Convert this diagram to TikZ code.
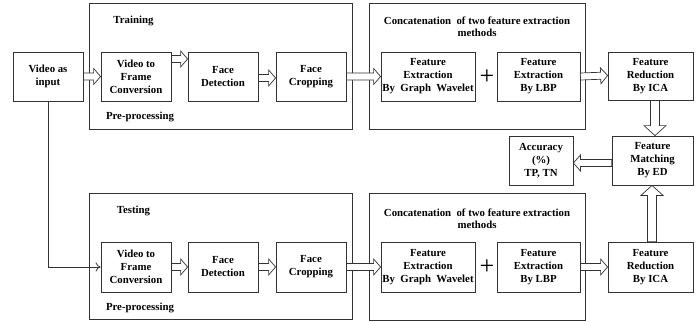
\documentclass[tikz,border=0pt]{standalone}
\usepackage{fontspec}
\setmainfont{Liberation Serif}
\usetikzlibrary{calc,arrows.meta}
\tikzset{
 box/.style={draw=black!80, line width=0.8pt, align=center, font=\bfseries\fontsize{10.8}{13}\selectfont, inner sep=1pt},
 frame/.style={draw=black!80, line width=0.8pt, inner sep=0pt},
 lbl/.style={font=\bfseries\fontsize{10.8}{12.5}\selectfont, align=center, inner sep=0pt},
 blk/.style={draw=black!80, line width=0.7pt, fill=white, line join=miter},
 plus/.style={font=\fontsize{26}{26}\selectfont, inner sep=0pt},
 thinarrow/.style={draw=black!80, line width=0.8pt, -{To[length=5pt,width=9pt]}},
}
\newcommand\blockarrow[5][7pt]{%
 \path #2 coordinate (ba-a) #3 coordinate (ba-b);
 \path ($(ba-b)!#1!(ba-a)$) coordinate (ba-h);
 \draw[blk] ($(ba-a)!#4!90:(ba-b)$) -- ($(ba-h)!#4!90:(ba-b)$) -- ($(ba-h)!#5!90:(ba-b)$) -- (ba-b) -- ($(ba-h)!#5!-90:(ba-b)$) -- ($(ba-h)!#4!-90:(ba-b)$) -- ($(ba-a)!#4!-90:(ba-b)$) -- cycle;
}
\begin{document}
\begin{tikzpicture}[x=1pt,y=-1pt]
\useasboundingbox (0,0) rectangle (700,321);
% frames
\node[frame, minimum width=263pt, minimum height=126pt] (train) at (220.5,66) {};
\node[frame, minimum width=216pt, minimum height=126pt] (cat1) at (477,66) {};
\node[frame, minimum width=263pt, minimum height=126pt] (test) at (220.5,256) {};
\node[frame, minimum width=216pt, minimum height=127pt] (cat2) at (477,256.5) {};
% labels
\node[lbl] (ltrain) at (133.5,21) {Training};
\node[lbl] (lpre1) at (140,117) {Pre-processing};
\node[lbl] (ltest) at (133.5,211) {Testing};
\node[lbl] (lpre2) at (140,308) {Pre-processing};
\node[lbl] (lcat1) at (477,27) {Concatenation \ of two feature extraction\\methods};
\node[lbl] (lcat2) at (477,218.5) {Concatenation \ of two feature extraction\\methods};
% top row
\node[box, minimum width=70pt, minimum height=49pt] (vin) at (48,76.5) {Video as\\input};
\node[box, minimum width=70pt, minimum height=49pt] (vfc1) at (136,76.5) {Video to\\Frame\\Conversion};
\node[box, minimum width=70pt, minimum height=49pt] (fd1) at (223,76.5) {Face\\Detection};
\node[box, minimum width=70pt, minimum height=49pt] (fc1) at (311,76.5) {Face\\Cropping};
\node[box, minimum width=94pt, minimum height=49pt] (gw1) at (428,76.5) {Feature\\Extraction\\By \ Graph \ Wavelet};
\node[plus] (p1) at (487,77) {+};
\node[box, minimum width=83pt, minimum height=49pt] (lbp1) at (538.5,76.5) {Feature\\Extraction\\By LBP};
\node[box, minimum width=85pt, minimum height=48pt] (fr1) at (650.5,76) {Feature\\Reduction\\By ICA};
% middle
\node[box, minimum width=64pt, minimum height=49pt] (acc) at (541,160.5) {Accuracy\\(\%)\\TP, TN};
\node[box, minimum width=81pt, minimum height=49pt] (fm) at (652.5,160.5) {Feature\\Matching\\By ED};
% bottom row
\node[box, minimum width=70pt, minimum height=50pt] (vfc2) at (136,267) {Video to\\Frame\\Conversion};
\node[box, minimum width=70pt, minimum height=50pt] (fd2) at (223,267) {Face\\Detection};
\node[box, minimum width=70pt, minimum height=50pt] (fc2) at (311,267) {Face\\Cropping};
\node[box, minimum width=94pt, minimum height=50pt] (gw2) at (428,267) {Feature\\Extraction\\By \ Graph \ Wavelet};
\node[plus] (p2) at (487,267) {+};
\node[box, minimum width=83pt, minimum height=50pt] (lbp2) at (538.5,267) {Feature\\Extraction\\By LBP};
\node[box, minimum width=85pt, minimum height=50pt] (fr2) at (650.5,267) {Feature\\Reduction\\By ICA};
% connectors
\draw[thinarrow] (vin.south) |- (vfc2.west);
\blockarrow{(vin.east)}{(vfc1.west)}{3.5pt}{8pt}
\blockarrow{([yshift=17.5pt]vfc1.east)}{([yshift=17.5pt]fd1.west)}{3.5pt}{8pt}
\blockarrow{([yshift=-1.5pt]fd1.east)}{([yshift=-1.5pt]fc1.west)}{3.5pt}{8pt}
\blockarrow{(fc1.east)}{(gw1.west)}{3.5pt}{8pt}
\blockarrow{(lbp1.east)}{([yshift=0.5pt]fr1.west)}{3.5pt}{8pt}
\blockarrow[10pt]{([xshift=4.5pt]fr1.south)}{([xshift=2.5pt]fm.north)}{4.5pt}{11pt}
\blockarrow{([yshift=-2.5pt]fm.west)}{([yshift=-2.5pt]acc.east)}{3.5pt}{8pt}
\blockarrow{(vfc2.east)}{(fd2.west)}{3.5pt}{8pt}
\blockarrow{(fd2.east)}{(fc2.west)}{3.5pt}{8pt}
\blockarrow{(fc2.east)}{(gw2.west)}{3.5pt}{8pt}
\blockarrow{(lbp2.east)}{(fr2.west)}{3.5pt}{8pt}
\blockarrow[10pt]{([xshift=1.5pt]fr2.north)}{([xshift=-0.5pt]fm.south)}{4.5pt}{11pt}
\end{tikzpicture}
\end{document}
